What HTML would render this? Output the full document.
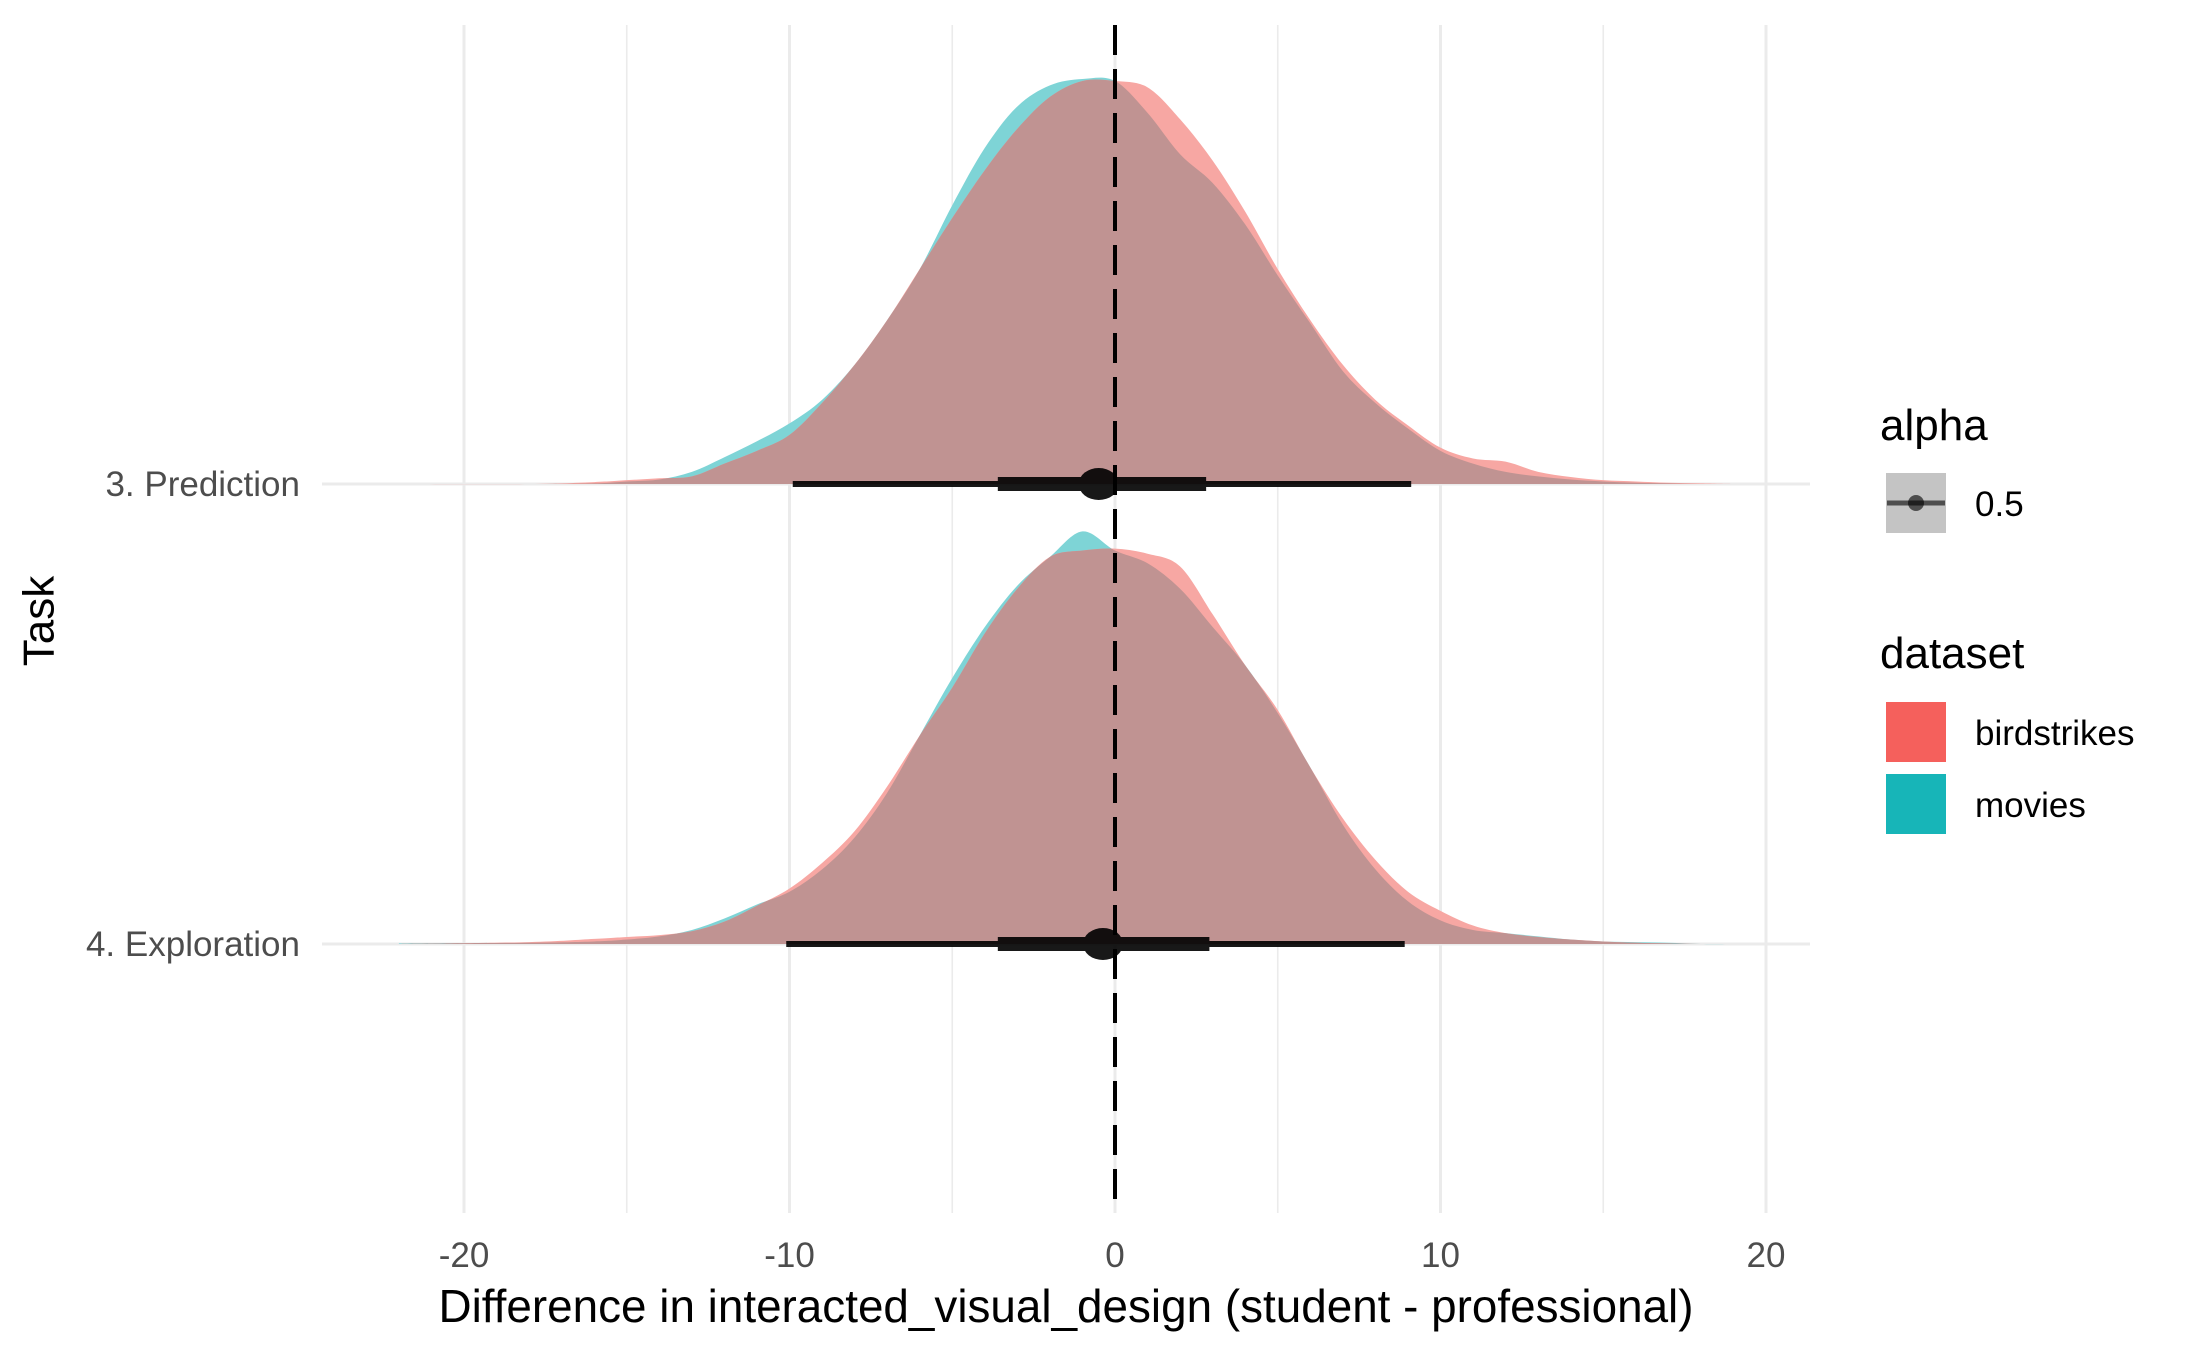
<!DOCTYPE html>
<html><head><meta charset="utf-8"><style>
html,body{margin:0;padding:0;background:#fff}
svg{display:block;font-family:"Liberation Sans",Arial,sans-serif}
</style></head><body>
<svg id="chart" width="2187" height="1351" viewBox="0 0 2187 1351">
<g id="grid"></g>
<g id="dens"></g>
<g id="marks"></g>
<g id="axes"></g>
<text x="39" y="621" font-size="44" text-anchor="middle" dominant-baseline="central" transform="rotate(-90 39 621)">Task</text>
<text x="1066" y="1322" font-size="46" text-anchor="middle" textLength="1255" lengthAdjust="spacingAndGlyphs">Difference in interacted_visual_design (student - professional)</text>
<g>
<text x="1880" y="440" font-size="44">alpha</text>
<rect x="1886" y="473" width="60" height="60" fill="#C4C4C4"/>
<line x1="1887" y1="503" x2="1945" y2="503" stroke="#000" stroke-opacity="0.6" stroke-width="5"/>
<circle cx="1916" cy="503" r="8" fill="#000" fill-opacity="0.6"/>
<text x="1975" y="516" font-size="35">0.5</text>
</g>
<g>
<text x="1880" y="668" font-size="44">dataset</text>
<rect x="1886" y="702" width="60" height="60" fill="#F5605C"/>
<text x="1975" y="745" font-size="35">birdstrikes</text>
<rect x="1886" y="774" width="60" height="60" fill="#17B5B8"/>
<text x="1975" y="817" font-size="35">movies</text>
</g>
</svg>
<script>
const categories = ["3. Prediction", "4. Exploration"];
const xTicks = [-20, -10, 0, 10, 20];
const xMinor = [-15, -5, 5, 15];
const gridV = [-22, -18, -16, -15, -14, -13, -12, -11, -10, -9, -8, -7, -6, -5, -4, -3, -2, -1, 0, 1, 2, 3, 4, 5, 6, 7, 8, 9, 10, 11, 12, 13, 14, 15, 16, 17, 18, 19];
const predBird = [0, 0, 3, 6, 9, 12, 32, 52, 77, 127, 187, 257, 337, 417, 492, 557, 607, 632, 632, 622, 572, 507, 427, 337, 257, 187, 132, 92, 57, 40, 35, 19, 11, 6, 4, 2, 1, 0];
const predMovies = [0, 0, 1, 4, 7, 19, 42, 67, 95, 132, 187, 257, 337, 437, 527, 592, 625, 635, 632, 582, 517, 472, 407, 327, 252, 177, 127, 87, 52, 32, 19, 12, 7, 4, 2, 1, 0, 0];
const explBird = [0, 3, 8, 11, 14, 20, 35, 60, 87, 127, 177, 247, 327, 402, 487, 557, 607, 617, 620, 612, 592, 517, 437, 367, 277, 197, 132, 82, 52, 29, 17, 11, 7, 4, 2, 1, 0, 0];
const explMovies = [1, 2, 4, 7, 12, 22, 40, 62, 82, 117, 167, 237, 327, 417, 497, 562, 607, 647, 617, 597, 557, 497, 437, 362, 277, 187, 117, 67, 37, 22, 17, 12, 7, 4, 3, 2, 0, 0];
const medians = [-0.5, -0.37];
const q66Low = [-3.6, -3.6];
const q66High = [2.8, 2.9];
const q95Low = [-9.9, -10.1];
const q95High = [9.1, 8.9];

const NS = "http://www.w3.org/2000/svg";
const X = v => 1115 + 32.55 * v;
const baseY = [484, 944];
const H = d => d / 1.568;
function mk(tag, attrs, parent) {
  const e = document.createElementNS(NS, tag);
  for (const k in attrs) e.setAttribute(k, attrs[k]);
  parent.appendChild(e);
  return e;
}
const grid = document.getElementById('grid');
xMinor.forEach(v => {
  const l = mk('line', {x1: X(v), x2: X(v), y1: 25, y2: 1213, stroke: '#EBEBEB', 'stroke-width': 1.6}, grid);
  
  
});
xTicks.forEach(v => {
  const l = mk('line', {x1: X(v), x2: X(v), y1: 25, y2: 1213, stroke: '#EBEBEB', 'stroke-width': 3}, grid);
  
  
});
baseY.forEach(y => {
  const l = mk('line', {x1: 322, x2: 1810, y1: y, y2: y, stroke: '#EBEBEB', 'stroke-width': 3}, grid);
  
  
});
function pathFor(vals, y0) {
  const pts = gridV.map((v, i) => [X(v), y0 - H(vals[i])]);
  let d = `M${pts[0][0]},${y0} L${pts[0][0]},${pts[0][1]}`;
  for (let i = 0; i < pts.length - 1; i++) {
    const p0 = pts[Math.max(0, i - 1)], p1 = pts[i], p2 = pts[i + 1], p3 = pts[Math.min(pts.length - 1, i + 2)];
    const c1 = [p1[0] + (p2[0] - p0[0]) / 6, p1[1] + (p2[1] - p0[1]) / 6];
    const c2 = [p2[0] - (p3[0] - p1[0]) / 6, p2[1] - (p3[1] - p1[1]) / 6];
    d += ` C${c1[0]},${c1[1]} ${c2[0]},${c2[1]} ${p2[0]},${p2[1]}`;
  }
  d += ` L${pts[pts.length - 1][0]},${y0} Z`;
  return d;
}
const dens = document.getElementById('dens');
const defs = mk('defs', {}, dens);
[[predMovies, predBird], [explMovies, explBird]].forEach((pair, k) => {
  const y0 = baseY[k];
  const dm = pathFor(pair[0], y0), db = pathFor(pair[1], y0);
  const cp = mk('clipPath', {id: 'clip' + k}, defs);
  mk('path', {d: dm}, cp);
  const pm = mk('path', {d: dm, fill: '#7ED4D6'}, dens);
  
  
  const pb = mk('path', {d: db, fill: '#F7A7A3'}, dens);
  
  
  const po = mk('path', {d: db, fill: '#C09392', 'clip-path': `url(#clip${k})`}, dens);
  
  
});
const marks = document.getElementById('marks');
categories.forEach((c, k) => {
  const y = baseY[k];
  const g = mk('g', {opacity: 0.9}, marks);
  
  
  mk('line', {x1: X(q95Low[k]), x2: X(q95High[k]), y1: y, y2: y, stroke: '#000', 'stroke-width': 6}, g);
  mk('line', {x1: X(q66Low[k]), x2: X(q66High[k]), y1: y, y2: y, stroke: '#000', 'stroke-width': 14}, g);
  mk('ellipse', {cx: X(medians[k]), cy: y, rx: 20, ry: 16, fill: '#000'}, g);
});
const axes = document.getElementById('axes');
const dash = mk('line', {x1: X(0), x2: X(0), y1: 25, y2: 1213, stroke: '#000', 'stroke-width': 4, 'stroke-dasharray': '30 14'}, axes);


xTicks.forEach(v => {
  const t = mk('text', {x: X(v), y: 1267, 'font-size': 35, fill: '#4D4D4D', 'text-anchor': 'middle'}, axes);
  t.textContent = String(v);
  
  
});
categories.forEach((c, k) => {
  const t = mk('text', {x: 300, y: baseY[k] + 12, 'font-size': 35, fill: '#4D4D4D', 'text-anchor': 'end'}, axes);
  t.textContent = c;
  
  
});
</script>
</body></html>
